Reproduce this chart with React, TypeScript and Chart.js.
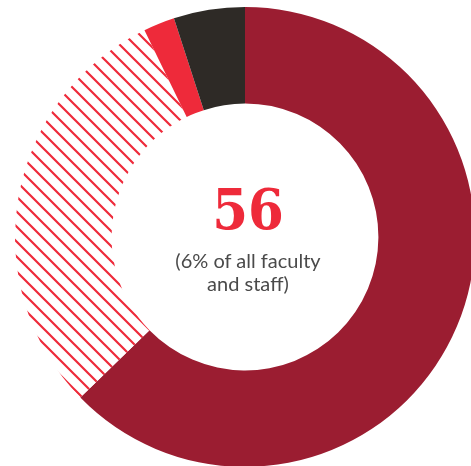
import React, { useEffect, useRef } from "react";
import { Chart, registerables } from "chart.js";

Chart.register(...registerables);

const categories = ["Group A", "Group B", "Group C", "Group D"];
const values = [62.7, 30.1, 2.2, 5.0];
const headline = "56";
const subLines = ["(6% of all faculty", "and staff)"];

const DARK_RED = "#9b1d31";
const BRIGHT_RED = "#ee2a3a";
const DARK = "#2e2a26";

function makeHatch(): CanvasPattern | string {
  const size = 15;
  const c = document.createElement("canvas");
  c.width = size;
  c.height = size;
  const ctx = c.getContext("2d");
  if (!ctx) return BRIGHT_RED;
  ctx.fillStyle = "#ffffff";
  ctx.fillRect(0, 0, size, size);
  ctx.strokeStyle = BRIGHT_RED;
  ctx.lineWidth = 2.2;
  ctx.lineCap = "square";
  ctx.beginPath();
  ctx.moveTo(-2, -2);
  ctx.lineTo(size + 2, size + 2);
  ctx.moveTo(-size - 2, -2);
  ctx.lineTo(2, size + 2);
  ctx.moveTo(-2, -size - 2);
  ctx.lineTo(size + 2, 2);
  ctx.stroke();
  const p = ctx.createPattern(c, "repeat");
  return p || BRIGHT_RED;
}

export default function App() {
  const ref = useRef<HTMLCanvasElement | null>(null);
  useEffect(() => {
    if (!ref.current) return;
    const hatch = makeHatch();
    const chart = new Chart(ref.current, {
      type: "doughnut",
      data: {
        labels: categories,
        datasets: [
          {
            data: values,
            backgroundColor: [DARK_RED, hatch as any, BRIGHT_RED, DARK],
            borderWidth: 0,
          },
        ],
      },
      options: {
        responsive: false,
        animation: false,
        cutout: "58%",
        layout: { padding: 7 },
        plugins: { legend: { display: false }, tooltip: { enabled: false } },
      },
    });
    return () => chart.destroy();
  }, []);

  return (
    <div
      style={{
        position: "fixed",
        left: 0,
        top: 0,
        width: 471,
        height: 466,
        overflow: "hidden",
        background: "#fff",
      }}
    >
      <canvas
        ref={ref}
        width={490}
        height={474}
        style={{ position: "absolute", left: 0, top: 0, width: 490, height: 474 }}
      />
      <div
        style={{
          position: "absolute",
          left: 148,
          width: 200,
          top: 181,
          textAlign: "center",
          fontFamily: "'DejaVu Serif', serif",
          fontWeight: 700,
          fontSize: 56,
          lineHeight: "56px",
          color: BRIGHT_RED,
          transform: "scaleX(0.92)",
        }}
      >
        {headline}
      </div>
      <div
        style={{
          position: "absolute",
          left: 128,
          width: 240,
          top: 249,
          textAlign: "center",
          fontFamily: "Lato, sans-serif",
          fontSize: 20,
          lineHeight: "23px",
          color: "#4a4a4a",
        }}
      >
        {subLines.map((l, i) => (
          <div key={i}>{l}</div>
        ))}
      </div>
    </div>
  );
}
